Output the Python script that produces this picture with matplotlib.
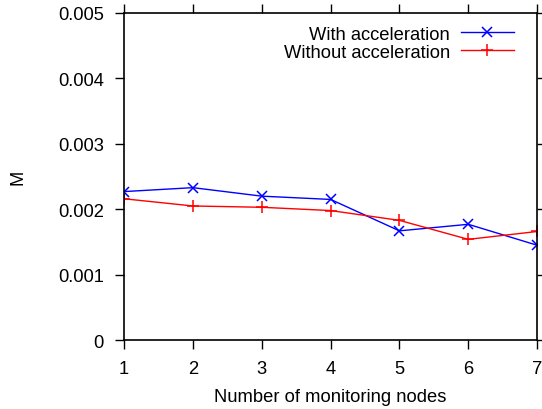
import matplotlib
matplotlib.use('Agg')
import matplotlib.pyplot as plt
from matplotlib.ticker import FuncFormatter

plt.rcParams['font.family'] = ['Liberation Sans', 'DejaVu Sans']
plt.rcParams['font.size'] = 13.2

# Data
nodes = [1, 2, 3, 4, 5, 6, 7]
with_acc = [0.00227, 0.00233, 0.00220, 0.00215, 0.00167, 0.00177, 0.00145]
without_acc = [0.00216, 0.00205, 0.00203, 0.00198, 0.00183, 0.00154, 0.00166]
y_ticks = [0, 0.001, 0.002, 0.003, 0.004, 0.005]

fig = plt.figure(figsize=(5.42, 4.10), dpi=100)
ax = fig.add_axes([0.229, 0.168, 0.762, 0.798])

ax.plot(nodes, with_acc, color='blue', marker='x', markersize=7,
        markeredgewidth=1.1, linewidth=1.0, label='With acceleration')
ax.plot(nodes, without_acc, color='red', marker='+', markersize=8,
        markeredgewidth=1.1, linewidth=1.0, label='Without acceleration')

ax.set_xlim(1, 7)
ax.set_ylim(0, 0.005)
ax.set_xticks(nodes)
ax.set_yticks(y_ticks)
ax.yaxis.set_major_formatter(FuncFormatter(lambda v, p: '%g' % v))

ax.tick_params(direction='out', length=6.5, width=1, top=True, right=True,
               labeltop=False, labelright=False)
ax.tick_params(axis='y', pad=8)
ax.tick_params(axis='x', pad=7.5)
for s in ax.spines.values():
    s.set_linewidth(1.2)

ax.set_xlabel('Number of monitoring nodes', labelpad=8.5)
ax.set_ylabel('M', labelpad=23)

ax.legend(loc='upper right', frameon=False, markerfirst=False,
          handlelength=2.9, handletextpad=0.6, labelspacing=0.05,
          borderaxespad=0.3, bbox_to_anchor=(0.975, 1.0))

fig.savefig('out.png', dpi=100)
